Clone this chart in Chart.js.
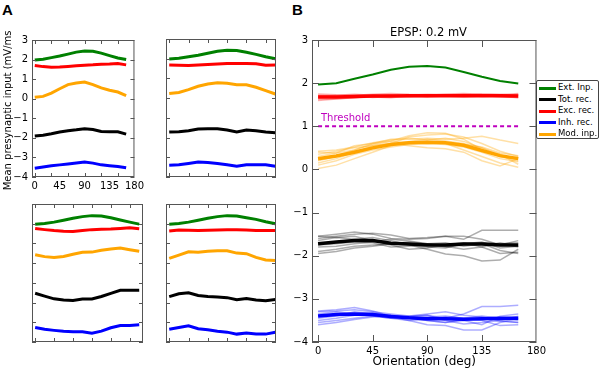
<!DOCTYPE html>
<html>
<head>
<meta charset="utf-8">
<script src="https://cdn.jsdelivr.net/npm/chart.js@4.4.1/dist/chart.umd.min.js"></script>
<style>
  body { margin: 0; background: #fff; }
  #fig { position: relative; width: 600px; height: 369px; overflow: hidden; font-family: "DejaVu Sans", sans-serif; }
  .box { position: absolute; }
  .lbl { position: absolute; white-space: nowrap; }
  .panel { font: bold 15px "Liberation Sans", Arial, sans-serif; line-height: 15px; }
  #legend { position: absolute; left: 536px; top: 80px; width: 63px; height: 59px; border: 1px solid #444; border-radius: 2px; background: #fff; padding-top: 1px; box-sizing: border-box; }
  #legend .row { position: relative; height: 11.5px; line-height: 11.5px; font-size: 8.5px; white-space: nowrap; }
  #legend .sw { position: absolute; left: 2px; top: 4.5px; width: 17px; height: 3px; }
  #legend .tx { position: absolute; left: 21px; top: 0; white-space: nowrap; }
</style>
</head>
<body>
<div id="fig">
  <div class="lbl panel" style="left:2px;top:2px;">A</div>
  <div class="lbl panel" style="left:292px;top:2px;">B</div>
  <div class="box" style="left:0;top:30px;width:147px;height:167px"><canvas id="a1"></canvas></div>
  <div class="box" style="left:162px;top:35px;width:118px;height:146px"><canvas id="a2"></canvas></div>
  <div class="box" style="left:28px;top:200px;width:119px;height:146px"><canvas id="a3"></canvas></div>
  <div class="box" style="left:162px;top:200px;width:118px;height:146px"><canvas id="a4"></canvas></div>
  <div class="box" style="left:282px;top:30px;width:267px;height:339px"><canvas id="b"></canvas></div>
  <div class="lbl" style="left:312px;width:233px;top:26px;text-align:center;font-size:11.5px;line-height:12px;">EPSP: 0.2 mV</div>
  <div class="lbl" style="left:321px;top:113px;font-size:10px;line-height:10px;color:#bf00bf;">Threshold</div>
  <div id="legend"></div>
</div>
<script>
// orientations (deg)
const orientations = [0, 15, 30, 45, 60, 75, 90, 105, 120, 135, 150, 165];
const yTickLabels = [3, 2, 1, 0, -1, -2, -3, -4];
const aXTickLabels = [0, 45, 90, 135, 180];
const aXTickMarks = [0, 30, 60, 90, 120, 150, 180];
const bXTickLabels = [0, 45, 90, 135, 180];
const thresholdLevel = 1;

// Panel A, top left
const a1Ext = [1.98, 2.02, 2.10, 2.18, 2.28, 2.38, 2.44, 2.42, 2.33, 2.20, 2.08, 2.00];
const a1Exc = [1.70, 1.64, 1.61, 1.62, 1.65, 1.68, 1.71, 1.73, 1.76, 1.77, 1.80, 1.73];
const a1Mod = [0.07, 0.12, 0.29, 0.51, 0.72, 0.80, 0.85, 0.72, 0.55, 0.43, 0.34, 0.16];
const a1Tot = [-1.91, -1.87, -1.79, -1.70, -1.64, -1.59, -1.53, -1.57, -1.67, -1.69, -1.69, -1.81];
const a1Inh = [-3.55, -3.49, -3.43, -3.38, -3.33, -3.28, -3.23, -3.29, -3.38, -3.42, -3.46, -3.53];
// Panel A, top right
const a2Ext = [1.98, 2.02, 2.10, 2.18, 2.28, 2.38, 2.43, 2.42, 2.33, 2.22, 2.10, 2.00];
const a2Exc = [1.68, 1.67, 1.65, 1.68, 1.71, 1.73, 1.76, 1.76, 1.76, 1.74, 1.67, 1.68];
const a2Mod = [0.24, 0.29, 0.43, 0.60, 0.72, 0.78, 0.75, 0.68, 0.68, 0.55, 0.38, 0.21];
const a2Tot = [-1.72, -1.70, -1.65, -1.57, -1.55, -1.55, -1.62, -1.72, -1.62, -1.65, -1.72, -1.75];
const a2Inh = [-3.40, -3.38, -3.31, -3.24, -3.26, -3.31, -3.38, -3.46, -3.38, -3.38, -3.38, -3.46];
// Panel A, bottom left
const a3Ext = [1.97, 2.01, 2.08, 2.18, 2.28, 2.36, 2.41, 2.39, 2.30, 2.19, 2.08, 1.98];
const a3Exc = [1.76, 1.70, 1.65, 1.62, 1.61, 1.65, 1.70, 1.72, 1.73, 1.76, 1.80, 1.75];
const a3Mod = [0.43, 0.33, 0.29, 0.34, 0.45, 0.55, 0.56, 0.65, 0.72, 0.77, 0.68, 0.60];
const a3Tot = [-1.53, -1.67, -1.81, -1.87, -1.89, -1.82, -1.82, -1.69, -1.53, -1.38, -1.38, -1.37];
const a3Inh = [-3.26, -3.35, -3.41, -3.46, -3.48, -3.48, -3.55, -3.45, -3.28, -3.16, -3.16, -3.13];
// Panel A, bottom right
const a4Ext = [1.97, 2.01, 2.08, 2.18, 2.28, 2.36, 2.41, 2.39, 2.30, 2.22, 2.10, 2.00];
const a4Exc = [1.63, 1.68, 1.67, 1.66, 1.67, 1.68, 1.69, 1.70, 1.68, 1.66, 1.66, 1.65];
const a4Mod = [0.24, 0.41, 0.58, 0.55, 0.60, 0.63, 0.63, 0.51, 0.48, 0.29, 0.16, 0.14];
const a4Tot = [-1.70, -1.55, -1.50, -1.64, -1.69, -1.72, -1.75, -1.86, -1.79, -1.87, -1.91, -1.84];
const a4Inh = [-3.35, -3.26, -3.18, -3.33, -3.38, -3.45, -3.50, -3.60, -3.55, -3.60, -3.60, -3.51];

// Panel B, means
const bExt = [1.97, 2.00, 2.10, 2.20, 2.31, 2.38, 2.40, 2.36, 2.26, 2.15, 2.05, 1.99];
const bExc = [1.68, 1.68, 1.69, 1.70, 1.70, 1.71, 1.71, 1.71, 1.71, 1.71, 1.71, 1.70];
const bMod = [0.25, 0.31, 0.40, 0.50, 0.58, 0.62, 0.63, 0.62, 0.56, 0.44, 0.32, 0.25];
const bTot = [-1.72, -1.68, -1.65, -1.65, -1.71, -1.73, -1.75, -1.75, -1.73, -1.73, -1.75, -1.75];
const bInh = [-3.40, -3.36, -3.35, -3.36, -3.41, -3.44, -3.46, -3.46, -3.47, -3.46, -3.45, -3.45];

// Panel B, single trials
const bExcTrials = [
  [1.62, 1.64, 1.66, 1.68, 1.66, 1.70, 1.72, 1.70, 1.68, 1.70, 1.72, 1.70],
  [1.75, 1.73, 1.72, 1.74, 1.76, 1.74, 1.73, 1.75, 1.76, 1.74, 1.73, 1.76],
  [1.66, 1.68, 1.70, 1.67, 1.69, 1.72, 1.74, 1.72, 1.70, 1.72, 1.70, 1.66],
  [1.72, 1.70, 1.68, 1.72, 1.73, 1.70, 1.68, 1.70, 1.73, 1.75, 1.74, 1.72],
  [1.60, 1.63, 1.66, 1.70, 1.72, 1.71, 1.69, 1.72, 1.74, 1.72, 1.68, 1.67],
  [1.70, 1.72, 1.74, 1.72, 1.70, 1.68, 1.70, 1.73, 1.72, 1.69, 1.70, 1.74]
];
const bModTrials = [
  [0.42, 0.45, 0.52, 0.62, 0.68, 0.70, 0.72, 0.70, 0.72, 0.77, 0.68, 0.60],
  [0.02, 0.10, 0.25, 0.40, 0.55, 0.62, 0.65, 0.60, 0.45, 0.30, 0.15, 0.05],
  [0.30, 0.38, 0.55, 0.60, 0.66, 0.78, 0.85, 0.84, 0.70, 0.45, 0.30, 0.20],
  [0.15, 0.25, 0.40, 0.55, 0.60, 0.55, 0.50, 0.48, 0.40, 0.20, 0.08, 0.25],
  [0.35, 0.42, 0.50, 0.55, 0.60, 0.75, 0.80, 0.82, 0.75, 0.60, 0.42, 0.30],
  [0.20, 0.30, 0.42, 0.50, 0.58, 0.65, 0.70, 0.66, 0.60, 0.50, 0.35, 0.12],
  [0.40, 0.38, 0.45, 0.58, 0.65, 0.62, 0.60, 0.62, 0.58, 0.52, 0.38, 0.32],
  [0.10, 0.20, 0.35, 0.45, 0.52, 0.58, 0.60, 0.58, 0.52, 0.40, 0.25, 0.18],
  [0.25, 0.32, 0.45, 0.60, 0.70, 0.72, 0.68, 0.72, 0.65, 0.50, 0.30, 0.28]
];
const bTotTrials = [
  [-1.55, -1.50, -1.45, -1.50, -1.60, -1.62, -1.60, -1.55, -1.62, -1.41, -1.41, -1.41],
  [-1.95, -1.90, -1.82, -1.78, -1.72, -1.75, -1.85, -1.96, -2.00, -2.12, -2.10, -1.85],
  [-1.60, -1.55, -1.50, -1.48, -1.52, -1.60, -1.58, -1.55, -1.55, -1.62, -1.75, -1.65],
  [-1.75, -1.72, -1.68, -1.70, -1.80, -1.78, -1.72, -1.70, -1.78, -1.72, -1.88, -1.95],
  [-1.90, -1.85, -1.78, -1.75, -1.72, -1.68, -1.72, -1.78, -1.85, -1.80, -1.70, -1.80],
  [-1.65, -1.58, -1.62, -1.58, -1.65, -1.75, -1.80, -1.82, -1.72, -1.68, -1.82, -1.78],
  [-1.55, -1.58, -1.55, -1.65, -1.75, -1.85, -1.82, -1.75, -1.70, -1.80, -1.95, -1.92],
  [-1.80, -1.78, -1.72, -1.68, -1.62, -1.66, -1.72, -1.80, -1.75, -1.70, -1.72, -1.70]
];
const bInhTrials = [
  [-3.28, -3.25, -3.20, -3.28, -3.40, -3.42, -3.38, -3.45, -3.35, -3.18, -3.18, -3.15],
  [-3.50, -3.45, -3.38, -3.35, -3.42, -3.50, -3.60, -3.62, -3.72, -3.72, -3.55, -3.45],
  [-3.30, -3.28, -3.25, -3.30, -3.35, -3.40, -3.35, -3.30, -3.38, -3.42, -3.50, -3.55],
  [-3.55, -3.50, -3.45, -3.40, -3.45, -3.50, -3.48, -3.42, -3.45, -3.50, -3.62, -3.60],
  [-3.45, -3.40, -3.30, -3.35, -3.38, -3.45, -3.50, -3.55, -3.50, -3.60, -3.40, -3.35],
  [-3.35, -3.30, -3.35, -3.32, -3.40, -3.45, -3.42, -3.40, -3.45, -3.40, -3.45, -3.50],
  [-3.60, -3.55, -3.48, -3.42, -3.38, -3.42, -3.50, -3.55, -3.48, -3.45, -3.52, -3.55],
  [-3.40, -3.38, -3.35, -3.40, -3.45, -3.40, -3.38, -3.50, -3.58, -3.55, -3.50, -3.40]
];

const legendNames = ['Ext. Inp.', 'Tot. rec.', 'Exc. rec.', 'Inh. rec.', 'Mod. inp.'];
const legendColors = ['#008000', '#000000', '#ff0000', '#0000ff', '#ffa500'];

const C = { ext: '#008000', tot: '#000000', exc: '#ff0000', inh: '#0000ff', mod: '#ffa500', thr: '#bf00bf' };
const fontFam = '"DejaVu Sans", sans-serif';

// cadre + graduations vers l'intérieur (style matplotlib)
const framePlugin = {
  id: 'frame',
  afterDatasetsDraw(chart, args, opts) {
    const { ctx, chartArea: a, scales } = chart;
    ctx.save();
    ctx.strokeStyle = opts.color || '#444';
    ctx.lineWidth = 1;
    ctx.beginPath();
    (opts.xMarks || []).forEach(v => {
      const px = Math.round(scales.x.getPixelForValue(v)) + 0.5;
      if (px < a.left || px > a.right) return;
      ctx.moveTo(px, a.top); ctx.lineTo(px, a.top + opts.len);
      ctx.moveTo(px, a.bottom); ctx.lineTo(px, a.bottom - opts.len);
    });
    (opts.yMarks || []).forEach(v => {
      const py = Math.round(scales.y.getPixelForValue(v)) + 0.5;
      ctx.moveTo(a.left, py); ctx.lineTo(a.left + opts.len, py);
      ctx.moveTo(a.right, py); ctx.lineTo(a.right - opts.len, py);
    });
    ctx.stroke();
    ctx.strokeRect(a.left + 0.5, a.top + 0.5, a.right - a.left - 1, a.bottom - a.top - 1);
    ctx.restore();
  }
};

function line(ys, color, width) {
  return {
    data: ys.map((y, i) => ({ x: orientations[i], y })),
    borderColor: color, borderWidth: width,
    pointRadius: 0, tension: 0, fill: false
  };
}

function minusFmt(v) {
  return v < 0 ? '\u2212' + Math.abs(v) : String(v);
}

function xAxis(max, labels, height, title) {
  const ax = {
    type: 'linear', min: -5, max: max, display: !!labels,
    grid: { display: false, drawTicks: false }, border: { display: false },
    ticks: { padding: 3, color: '#000', font: { family: fontFam, size: 10 }, maxRotation: 0, autoSkip: false }
  };
  if (labels) {
    ax.afterBuildTicks = s => { s.ticks = labels.map(v => ({ value: v })); };
    ax.afterFit = s => { s.height = height; };
  }
  if (title) {
    ax.title = { display: true, text: title, color: '#000', font: { family: fontFam, size: 12 }, padding: { top: 0, bottom: 0 } };
  }
  return ax;
}

function yAxis(labels, width, title) {
  const ax = {
    type: 'linear', min: -4, max: 3, display: !!labels,
    grid: { display: false, drawTicks: false }, border: { display: false },
    ticks: { padding: 4, color: '#000', font: { family: fontFam, size: 10 }, callback: v => minusFmt(v) }
  };
  if (labels) {
    ax.afterBuildTicks = s => { s.ticks = labels.map(v => ({ value: v })); };
    ax.afterFit = s => { s.width = width; };
  }
  if (title) {
    ax.title = { display: true, text: title, color: '#000', font: { family: fontFam, size: 10 }, padding: { top: 2, bottom: 0 } };
  }
  return ax;
}

function panelA(id, ext, exc, mod, tot, inh, xMax, withLabels, padding) {
  new Chart(document.getElementById(id), {
    type: 'line',
    data: {
      datasets: [
        line(ext, C.ext, 3), line(exc, C.exc, 3), line(mod, C.mod, 3),
        line(tot, C.tot, 3), line(inh, C.inh, 3)
      ]
    },
    options: {
      responsive: true, maintainAspectRatio: false, animation: false, events: [],
      layout: { padding: padding },
      scales: {
        x: xAxis(xMax, withLabels ? aXTickLabels : null, 20),
        y: yAxis(withLabels ? yTickLabels : null, 32, withLabels ? 'Mean presynaptic input (mV/ms)' : null)
      },
      plugins: {
        legend: { display: false }, tooltip: { enabled: false },
        frame: { xMarks: aXTickMarks, yMarks: yTickLabels, len: 4, color: '#555' }
      }
    },
    plugins: [framePlugin]
  });
}

panelA('a1', a1Ext, a1Exc, a1Mod, a1Tot, a1Inh, 180, true, { left: 0, top: 9, right: 4, bottom: 0 });
panelA('a2', a2Ext, a2Exc, a2Mod, a2Tot, a2Inh, 166, false, 4);
panelA('a3', a3Ext, a3Exc, a3Mod, a3Tot, a3Inh, 171, false, 4);
panelA('a4', a4Ext, a4Exc, a4Mod, a4Tot, a4Inh, 166, false, 4);

// Panel B
const bSets = [];
bExcTrials.forEach(t => bSets.push(line(t, 'rgba(255,0,0,0.3)', 1.5)));
bModTrials.forEach(t => bSets.push(line(t, 'rgba(255,165,0,0.35)', 1.5)));
bTotTrials.forEach(t => bSets.push(line(t, 'rgba(0,0,0,0.32)', 1.5)));
bInhTrials.forEach(t => bSets.push(line(t, 'rgba(0,0,255,0.32)', 1.5)));
bSets.push(line(bExt, C.ext, 2));
bSets.push(line(bTot, C.tot, 3.5));
bSets.push(line(bExc, C.exc, 3.5));
bSets.push(line(bInh, C.inh, 3.5));
bSets.push(line(bMod, C.mod, 3.5));
const thr = line([thresholdLevel, thresholdLevel], C.thr, 2);
thr.data = [{ x: orientations[0], y: thresholdLevel }, { x: orientations[orientations.length - 1], y: thresholdLevel }];
thr.borderDash = [4, 3];
bSets.push(thr);

new Chart(document.getElementById('b'), {
  type: 'line',
  data: { datasets: bSets },
  options: {
    responsive: true, maintainAspectRatio: false, animation: false, events: [],
    layout: { padding: { left: 0, top: 9, right: 4, bottom: 0 } },
    scales: {
      x: xAxis(180, bXTickLabels, 27, 'Orientation (deg)'),
      y: yAxis(yTickLabels, 30, null)
    },
    plugins: {
      legend: { display: false }, tooltip: { enabled: false },
      frame: { xMarks: bXTickLabels, yMarks: yTickLabels, len: 7, color: '#555' }
    }
  },
  plugins: [framePlugin]
});

// légende
const leg = document.getElementById('legend');
legendNames.forEach((name, i) => {
  const row = document.createElement('div');
  row.className = 'row';
  row.innerHTML = `<span class="sw" style="background:${legendColors[i]}"></span><span class="tx">${name}</span>`;
  leg.appendChild(row);
});
</script>
</body>
</html>
